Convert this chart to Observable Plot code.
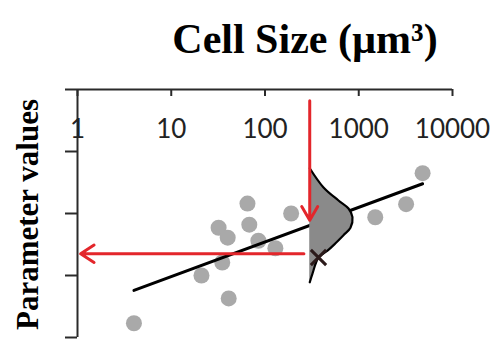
<!DOCTYPE html>
<html>
<head>
<meta charset="utf-8">
<script src="https://cdn.jsdelivr.net/npm/d3@7"></script>
<script src="https://cdn.jsdelivr.net/npm/@observablehq/plot@0.6"></script>
<style>
  html, body { margin: 0; padding: 0; background: #fff; }
  #chart { width: 501px; height: 340px; }
</style>
</head>
<body>
<div id="chart"></div>
<script>
// Axis ticks
const xTicks = [1, 10, 100, 1000, 10000];
const yTicks = [0, 1, 2, 3, 4];

// Observed cells: size (µm³) and parameter value
const cellSizes  = [4, 21, 41, 32, 40, 35, 65, 68, 85, 129, 190, 1500, 3200, 4800];
const paramVals  = [0.23, 1.0, 0.63, 1.77, 1.61, 1.21, 2.16, 1.82, 1.56, 1.44, 2.0, 1.94, 2.15, 2.65];

// Fitted trend line end points
const fitSizes = [4, 4800];
const fitVals  = [0.76, 2.48];

// Predictive distribution at the query size (right edge of the density)
const querySize = 300;
const distVals  = [2.73, 2.42, 2.21, 2.08, 1.94, 1.77, 1.65, 1.52, 1.40, 1.29, 1.03, 0.89];
const distSizes = [300, 421, 608, 778, 857, 816, 687, 565, 464, 372, 321, 300];

// Predicted value marker
const predSize = 372;
const predVal  = 1.29;

// Arrows: query size down to the curve, prediction across to the axis
const downArrow = {size: querySize, from: 3.82, to: 1.89};
const leftArrow = {value: 1.35, from: 260, to: 1.08};

const points = cellSizes.map((s, i) => ({size: s, value: paramVals[i]}));
const fit = fitSizes.map((s, i) => ({size: s, value: fitVals[i]}));
const dist = distVals.map((v, i) => ({value: v, size: distSizes[i]}));

const serif = "'Liberation Serif', 'Times New Roman', serif";
const sans = "Lato, 'Open Sans', sans-serif";
const red = "#e3262b";
const axisColor = "#2a2a2a";

const chart = Plot.plot({
  width: 501,
  height: 340,
  marginLeft: 77,
  marginRight: 49,
  marginTop: 89,
  marginBottom: 3,
  style: {background: "#fff", overflow: "visible"},
  x: {type: "log", domain: [1, 10000], axis: null, label: null},
  y: {domain: [0, 4], axis: null, label: null},
  marks: [
    // y axis ticks (pointing left) and axis lines
    Plot.axisY({ticks: yTicks, tickSize: 12, tickFormat: () => "", stroke: axisColor, strokeWidth: 2, label: null}),
    Plot.ruleX([1], {stroke: axisColor, strokeWidth: 2}),
    Plot.ruleY([4], {stroke: axisColor, strokeWidth: 2}),
    // x ticks hanging down from the top axis
    Plot.ruleX(xTicks, {x: d => d, y1: 4, y2: 4, insetBottom: -7, stroke: axisColor, strokeWidth: 2}),
    Plot.text(xTicks, {x: d => d, text: d => String(d), frameAnchor: "top", lineAnchor: "middle", dy: 40,
      fontFamily: sans, fontSize: 26, fill: "#222"}),

    // observations
    Plot.dot(points, {x: "size", y: "value", r: 8, fill: "#a9a9a9", stroke: null}),

    // trend line
    Plot.line(fit, {x: "size", y: "value", stroke: "#000", strokeWidth: 3}),

    // predictive density
    Plot.areaX(dist, {y: "value", x1: querySize, x2: "size", fill: "#8a8a8a", curve: "catmull-rom"}),
    Plot.line(dist, {x: "size", y: "value", stroke: "#000", strokeWidth: 2.2, curve: "catmull-rom"}),

    // arrows
    Plot.arrow([downArrow], {x1: "size", x2: "size", y1: "from", y2: "to",
      stroke: red, strokeWidth: 3, headLength: 8, headAngle: 60}),
    Plot.arrow([leftArrow], {y1: "value", y2: "value", x1: "from", x2: "to",
      stroke: red, strokeWidth: 3, headLength: 8, headAngle: 66}),

    // predicted value
    Plot.dot([{size: predSize, value: predVal}], {x: "size", y: "value", symbol: "times", r: 7,
      stroke: "#2b1a1a", strokeWidth: 3}),

    // titles
    Plot.text(["Cell Size (µm³)"], {frameAnchor: "top", lineAnchor: "middle", textAnchor: "middle", dx: 40, dy: -50,
      fontFamily: serif, fontWeight: "bold", fontSize: 42, fill: "#000"}),
    Plot.text(["Parameter values"], {frameAnchor: "left", lineAnchor: "middle", textAnchor: "middle",
      rotate: -90, dx: -49, dy: 1,
      fontFamily: serif, fontWeight: "bold", fontSize: 31, fill: "#000"})
  ]
});

document.getElementById("chart").appendChild(chart);
</script>
</body>
</html>
